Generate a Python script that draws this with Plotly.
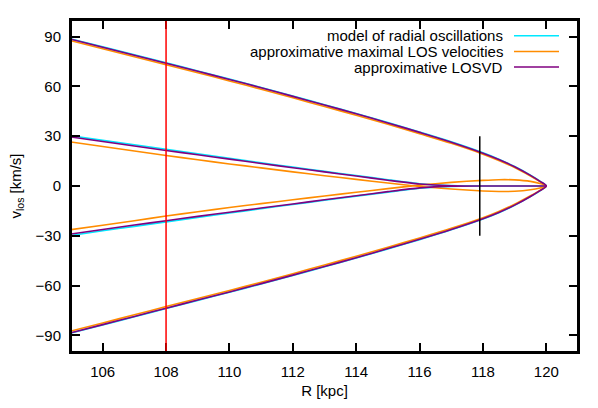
import plotly.graph_objects as go

# ---------------- data ----------------
R_KPC = [105, 106, 107, 108, 109, 110, 111, 112, 113, 114, 115, 116, 117, 118, 118.5, 119, 119.5, 119.8, 120]

# model of radial oscillations (cyan)
model_outer_up = [88.6, 83.8, 79.0, 74.2, 69.3, 64.4, 59.4, 54.2, 49.0, 43.7, 38.2, 32.5, 26.6, 20.0, 16.2, 11.7, 6.5, 2.9, 0.0]
model_outer_lo = [-88.6, -83.7, -78.8, -73.8, -68.9, -64.0, -59.0, -53.9, -48.7, -43.4, -37.9, -32.3, -26.4, -19.9, -16.1, -11.6, -6.4, -2.9, 0.0]
model_inner_up = [30.3, 27.5, 24.8, 22.1, 19.4, 16.7, 14.0, 11.4, 8.8, 6.3, 3.8, 1.4, 0.2, 0.0, 0.0, 0.0, 0.0, 0.0, 0.0]
model_inner_lo = [-29.8, -27.0, -24.3, -21.6, -18.9, -16.3, -13.7, -11.1, -8.6, -6.1, -3.7, -1.4, -0.2, 0.0, 0.0, 0.0, 0.0, 0.0, 0.0]

# approximative maximal LOS velocities (orange)
maxlos_outer_up = [87.5, 82.7, 77.9, 73.0, 68.2, 63.3, 58.3, 53.1, 47.9, 42.6, 37.2, 31.5, 25.7, 19.2, 15.4, 11.1, 6.0, 2.6, 0.0]
maxlos_outer_lo = [-87.4, -82.5, -77.6, -72.6, -67.8, -62.9, -58.0, -52.8, -47.6, -42.3, -36.9, -31.3, -25.5, -19.1, -15.3, -11.0, -5.9, -2.6, 0.0]
maxlos_inner_up = [26.5, 23.8, 21.1, 18.4, 15.8, 13.3, 10.9, 8.5, 6.2, 4.0, 1.8, -0.3, -1.8, -3.0, -3.3, -3.2, -2.3, -1.2, 0.0]
maxlos_inner_lo = [-26.3, -23.6, -20.9, -18.1, -15.5, -13.0, -10.6, -8.3, -6.0, -3.8, -1.6, 0.5, 2.2, 3.4, 3.8, 3.7, 2.8, 1.5, 0.0]

# approximative LOSVD (purple)
losvd_outer_up = [88.4, 83.6, 78.8, 74.0, 69.1, 64.2, 59.2, 54.0, 48.8, 43.5, 38.0, 32.3, 26.4, 19.8, 16.0, 11.6, 6.4, 2.8, 0.0]
losvd_outer_lo = [-88.4, -83.5, -78.6, -73.6, -68.7, -63.8, -58.8, -53.7, -48.5, -43.2, -37.7, -32.1, -26.2, -19.7, -15.9, -11.5, -6.3, -2.8, 0.0]
losvd_inner_up = [29.5, 26.8, 24.1, 21.4, 18.8, 16.2, 13.6, 11.0, 8.5, 6.0, 3.5, 1.2, 0.1, 0.0, 0.0, 0.0, 0.0, 0.0, 0.0]
losvd_inner_lo = [-28.9, -26.2, -23.5, -20.9, -18.3, -15.8, -13.3, -10.8, -8.3, -5.9, -3.4, -1.1, -0.1, 0.0, 0.0, 0.0, 0.0, 0.0, 0.0]

RED_LINE_R = 108
BLACK_SEG_R = 117.9
BLACK_SEG_V = [-30, 30]

SERIES_NAMES = ["model of radial oscillations", "approximative maximal LOS velocities", "approximative LOSVD"]
SERIES_COLORS = ["#00e8ff", "#ff8c00", "#800080"]

X_RANGE = [105, 121]
Y_RANGE = [-100, 100]
X_TICKS = [106, 108, 110, 112, 114, 116, 118, 120]
Y_TICKS = [-90, -60, -30, 0, 30, 60, 90]

FONT = "Liberation Sans, Arial, sans-serif"
FS = 15

fig = go.Figure()

series = [
    (model_outer_up, model_outer_lo, model_inner_up, model_inner_lo),
    (maxlos_outer_up, maxlos_outer_lo, maxlos_inner_up, maxlos_inner_lo),
    (losvd_outer_up, losvd_outer_lo, losvd_inner_up, losvd_inner_lo),
]

for (ou, ol, iu, il), name, color in zip(series, SERIES_NAMES, SERIES_COLORS):
    xs = list(R_KPC) + list(R_KPC[::-1][1:])
    ys = list(ou) + list(ol[::-1][1:])
    fig.add_trace(go.Scatter(x=xs, y=ys, mode="lines", name=name,
                             line=dict(color=color, width=1.6, shape="spline", smoothing=0.8),
                             showlegend=False, hoverinfo="skip"))
    ys = list(iu) + list(il[::-1][1:])
    fig.add_trace(go.Scatter(x=xs, y=ys, mode="lines", name=name,
                             line=dict(color=color, width=1.6, shape="spline", smoothing=0.6),
                             showlegend=False, hoverinfo="skip"))

# black vertical segment
fig.add_trace(go.Scatter(x=[BLACK_SEG_R, BLACK_SEG_R], y=BLACK_SEG_V, mode="lines",
                         line=dict(color="#000000", width=1.5), showlegend=False, hoverinfo="skip"))
# red vertical line over the full plot height
fig.add_vline(x=RED_LINE_R, line=dict(color="#ff0000", width=1.5))

L, R_, T, B = 71, 20, 20, 56
W, H = 598, 408
pw, ph = W - L - R_, H - T - B
rows_py = [35.7, 51.5, 67.0]
for name, color, py in zip(SERIES_NAMES, SERIES_COLORS, rows_py):
    yp = (H - B - py) / ph
    fig.add_annotation(x=(505 - L) / pw, y=yp, xref="paper", yref="paper",
                       text=name, showarrow=False, xanchor="right", yanchor="middle",
                       xshift=0, font=dict(family=FONT, size=FS, color="#000000"))
    fig.add_shape(type="line", xref="paper", yref="paper",
                  x0=(514 - L) / pw, x1=(559 - L) / pw, y0=yp, y1=yp,
                  line=dict(color=color, width=1.6))

# plot frame
fig.add_shape(type="rect", xref="paper", yref="paper", x0=0, x1=1, y0=0, y1=1,
              line=dict(color="#000000", width=2), layer="above")

axis_common = dict(showgrid=False, zeroline=False, showline=True, linecolor="#000000",
                   linewidth=2, mirror="ticks", ticks="inside", ticklen=9,
                   tickwidth=1.5, tickcolor="#000000",
                   tickfont=dict(family=FONT, size=FS, color="#000000"))

fig.update_layout(
    width=W, height=H, autosize=False,
    margin=dict(l=L, r=R_, t=T, b=B, autoexpand=False),
    paper_bgcolor="white", plot_bgcolor="white",
    xaxis=dict(range=X_RANGE, tickvals=X_TICKS, ticklabelstandoff=5, automargin=False,
               title=dict(text="R [kpc]", font=dict(family=FONT, size=FS, color="#000000"), standoff=6),
               **axis_common),
    yaxis=dict(range=Y_RANGE, tickvals=Y_TICKS, ticklabelstandoff=5, automargin=False,
               title=dict(text="v<sub>los</sub> [km/s]", font=dict(family=FONT, size=FS, color="#000000"), standoff=10),
               **axis_common),
)

fig.write_html("out.html", config={"displayModeBar": False},
               post_script="document.body.style.margin='0';")
